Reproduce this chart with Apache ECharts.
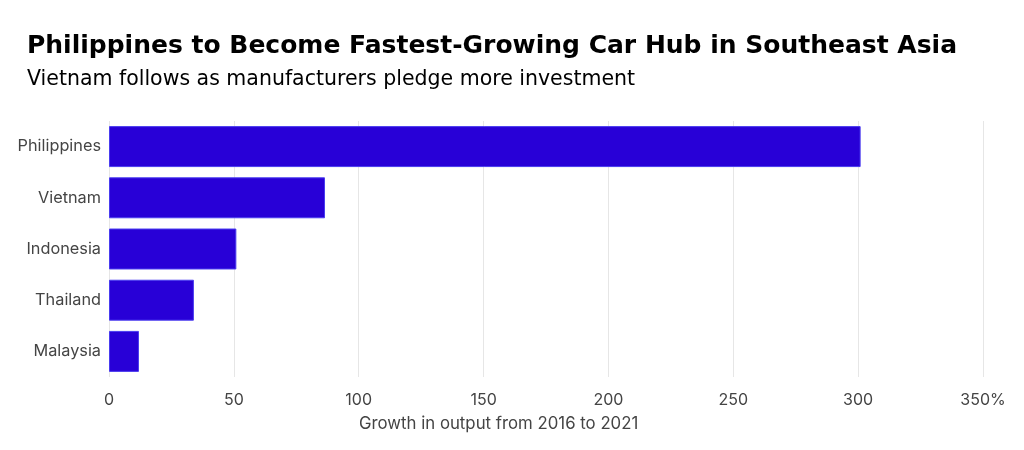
<!DOCTYPE html>
<html>
<head>
<meta charset="utf-8">
<script src="https://cdn.jsdelivr.net/npm/echarts@6/dist/echarts.min.js"></script>
<style>html,body{margin:0;padding:0;background:#fff}#c{width:1024px;height:450px}</style>
</head>
<body>
<div id="c"></div>
<script>
const categories = ["Philippines", "Vietnam", "Indonesia", "Thailand", "Malaysia"];
const growth = [301, 86.5, 51, 34, 12];
const tickValues = [0, 50, 100, 150, 200, 250, 300, 350];

const FONT = 'Inter';
const HEAD = 'DejaVu Sans';
const chart = echarts.init(document.getElementById('c'));
chart.setOption({
  backgroundColor: '#fff',
  animation: false,
  title: [
    {
      text: 'Philippines to Become Fastest-Growing Car Hub in Southeast Asia',
      left: 22, top: 29,
      textStyle: { fontFamily: HEAD, fontWeight: 'bold', fontSize: 25, color: '#000' }
    },
    {
      text: 'Vietnam follows as manufacturers pledge more investment',
      left: 22, top: 64,
      textStyle: { fontFamily: HEAD, fontWeight: 'normal', fontSize: 20.5, color: '#000' }
    },
    {
      text: 'Growth in output from 2016 to 2021',
      left: 354, top: 410,
      textStyle: { fontFamily: FONT, fontWeight: 'normal', fontSize: 16.8, color: '#444' }
    }
  ],
  grid: { left: 109, right: 41, top: 121, bottom: 73 },
  xAxis: {
    type: 'value', min: 0, max: 350, interval: 50,
    axisLine: { show: false }, axisTick: { show: false },
    splitLine: { show: true, lineStyle: { color: '#e6e6e6', width: 1 } },
    axisLabel: {
      margin: 15, color: '#444', fontFamily: FONT, fontSize: 16,
      formatter: v => v === 350 ? v + '%' : String(v)
    }
  },
  yAxis: {
    type: 'category', data: categories, inverse: true,
    axisLine: { show: false }, axisTick: { show: false },
    axisLabel: { margin: 8, color: '#444', fontFamily: FONT, fontSize: 16.3 }
  },
  series: [{
    type: 'bar', data: growth, barCategoryGap: '20%',
    itemStyle: { color: '#2800d7', borderColor: '#4a3cf0', borderWidth: 1 }
  }]
});
</script>
</body>
</html>
